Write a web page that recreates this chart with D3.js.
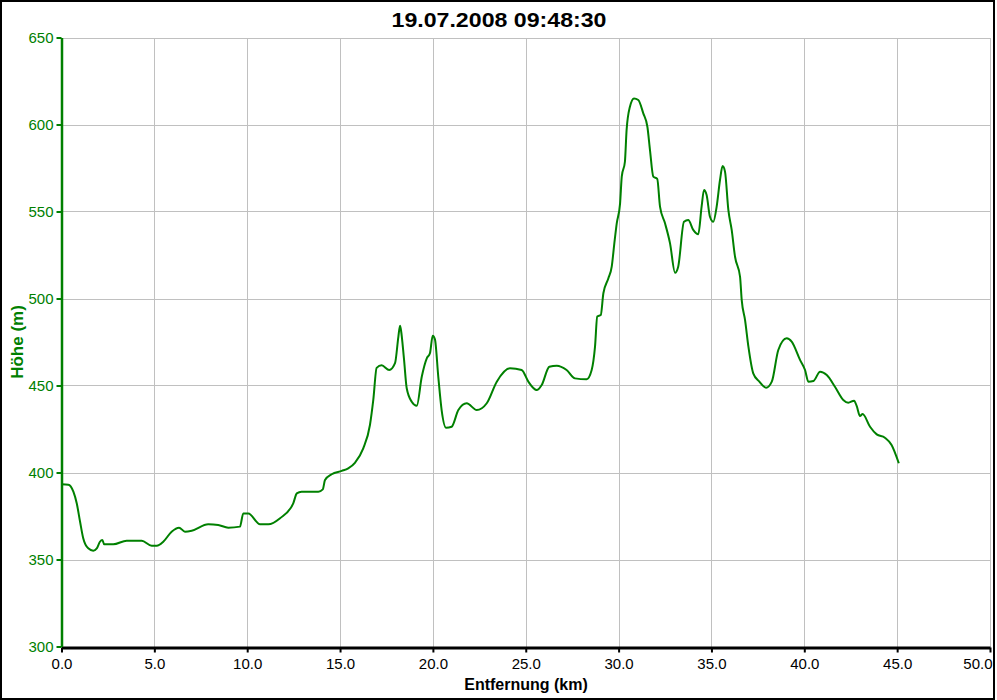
<!DOCTYPE html>
<html>
<head>
<meta charset="utf-8">
<script src="https://cdn.jsdelivr.net/npm/d3@7"></script>
<style>
  html, body { margin: 0; padding: 0; background: #fff; }
  svg { display: block; }
  text { font-family: "Liberation Sans", Arial, sans-serif; }
</style>
</head>
<body>
<svg id="chart" width="997" height="700"></svg>
<script>
const titleText = "19.07.2008 09:48:30";
const xTitle = "Entfernung (km)";
const yTitle = "Höhe (m)";
const xTicks = [0, 5, 10, 15, 20, 25, 30, 35, 40, 45, 50];
const yTicks = [300, 350, 400, 450, 500, 550, 600, 650];

const distanceKm = [0,0.37,0.64,0.82,1.0,1.17,1.44,1.71,1.9,2.07,2.2,2.3,2.79,3.51,4.32,4.86,5.13,5.48,5.93,6.33,6.65,7.01,7.9,8.44,8.98,9.61,9.79,10.06,10.69,11.14,11.77,12.48,12.67,12.93,13.83,14.07,14.19,14.55,15.09,15.44,15.8,16.25,16.61,16.79,16.97,17.24,17.65,17.96,18.14,18.23,18.28,18.44,18.59,18.86,19.13,19.4,19.67,19.84,19.99,20.11,20.29,20.47,20.71,21.01,21.37,21.82,22.36,22.9,23.44,24.15,24.78,25.14,25.59,25.86,26.27,26.67,27.2,27.65,28.28,28.55,28.73,28.85,29.04,29.18,29.45,29.63,29.77,29.9,30.08,30.17,30.34,30.43,30.61,30.83,31.06,31.33,31.55,31.69,31.87,32.08,32.23,32.5,32.77,33.04,33.21,33.52,33.75,34.02,34.29,34.47,34.6,34.74,34.92,35.1,35.28,35.46,35.6,35.73,35.91,36.09,36.27,36.54,36.63,36.81,36.99,37.25,37.58,37.94,38.25,38.6,39.05,39.32,39.77,40.04,40.22,40.49,40.85,41.21,41.65,42.1,42.37,42.68,42.82,43.0,43.14,43.54,43.9,44.34,44.7,45.09];
const elevationM = [393.2,393,389,382.3,371.7,362.2,356.4,355.1,356.4,360.2,361.2,358.7,358.7,360.8,360.8,357.9,357.9,360.2,366,368.3,366,366.5,370.2,369.8,368.3,368.9,376.5,376.5,370.2,370.2,373.7,382.3,388,389,389,390.3,395.7,399,400.9,402.4,405.6,413.9,427.3,441.7,460.1,461.6,458.9,462.8,478,484.4,481.9,465.6,448.4,440.7,438.4,455,465.6,468.5,478.6,476.5,455,435.9,425.7,426.3,435.9,439.8,435.9,439.8,452.2,459.9,458.9,452.2,447.4,450.3,460.8,461.4,458.9,454.1,453.6,458.9,472.3,489.6,490.5,503,511.6,518.3,531.7,543.2,554.7,570,578.6,596.8,610.2,615,614.1,606.4,598.7,585.3,570,568.7,552.8,543.2,531.7,514.8,518.3,544.1,545.1,539.4,536.9,552.8,562.4,559.5,547,544.1,552.8,568.1,576.1,572.9,550.9,539.4,524,512.5,499.1,487.6,472.3,457,452.2,448.7,452.2,470.4,477.1,475.2,464.7,458.9,452.2,452.6,457.9,456,449.3,441.7,440.1,441.3,438.3,432.5,433.6,426.3,421.9,420,415.8,405.3];

const svg = d3.select("#chart");
const green = "#008000";
const x = d3.scaleLinear().domain([0, 50]).range([61.5, 990]);
const y = d3.scaleLinear().domain([300, 650]).range([646.5, 37.5]);

// border
svg.append("rect").attr("x", 1).attr("y", 1).attr("width", 993).attr("height", 698)
  .attr("fill", "#fff").attr("stroke", "#000").attr("stroke-width", 2);

// grid
const grid = svg.append("g").attr("stroke", "#c0c0c0").attr("stroke-width", 1).attr("shape-rendering", "crispEdges");
grid.selectAll("line.v").data(xTicks.filter(d => d > 0)).join("line")
  .attr("x1", d => Math.round(x(d)) + 0.5).attr("x2", d => Math.round(x(d)) + 0.5)
  .attr("y1", y(650)).attr("y2", y(300));
grid.selectAll("line.h").data(yTicks.filter(d => d > 300)).join("line")
  .attr("class", "h")
  .attr("x1", x(0)).attr("x2", x(50))
  .attr("y1", d => Math.round(y(d)) + 0.5).attr("y2", d => Math.round(y(d)) + 0.5);

// line
const line = d3.line().x((d, i) => x(distanceKm[i])).y(d => y(d)).curve(d3.curveMonotoneX);
svg.append("path").datum(elevationM).attr("d", line)
  .attr("fill", "none").attr("stroke", green).attr("stroke-width", 2).attr("stroke-linejoin", "round");

// x axis
const xAxis = svg.append("g").attr("transform", `translate(0,${y(300) + 1})`)
  .call(d3.axisBottom(x).tickValues(xTicks).tickFormat(d3.format(".1f")).tickSize(5).tickSizeOuter(0).tickPadding(6));
xAxis.select(".domain").attr("stroke", "#000").attr("stroke-width", 3);
xAxis.selectAll(".tick line").attr("stroke", "#000").attr("stroke-width", 2);
xAxis.selectAll(".tick text").attr("fill", "#000").style("font-size", "15px")
  .style("font-family", "'Liberation Sans', Arial, sans-serif");
xAxis.selectAll(".tick text").filter(d => d === 50).attr("text-anchor", "end").attr("x", 2);

// y axis
const yAxis = svg.append("g").attr("transform", `translate(${x(0)},0)`)
  .call(d3.axisLeft(y).tickValues(yTicks).tickFormat(d3.format("d")).tickSize(5).tickSizeOuter(0).tickPadding(3));
yAxis.select(".domain").attr("stroke", green).attr("stroke-width", 2.5);
yAxis.selectAll(".tick line").attr("stroke", green).attr("stroke-width", 2);
yAxis.selectAll(".tick text").attr("fill", green).style("font-size", "15px")
  .style("font-family", "'Liberation Sans', Arial, sans-serif");

// titles
svg.append("text").attr("x", 499).attr("y", 27).attr("text-anchor", "middle")
  .style("font-size", "21px").style("font-weight", "bold").attr("fill", "#000")
  .attr("textLength", 215).attr("lengthAdjust", "spacingAndGlyphs").text(titleText);
svg.append("text").attr("x", 526).attr("y", 690).attr("text-anchor", "middle")
  .style("font-size", "16px").style("font-weight", "bold").attr("fill", "#000").text(xTitle);
svg.append("text").attr("transform", "translate(23,342) rotate(-90)").attr("text-anchor", "middle")
  .style("font-size", "17px").style("font-weight", "bold").attr("fill", green).text(yTitle);
</script>
</body>
</html>
